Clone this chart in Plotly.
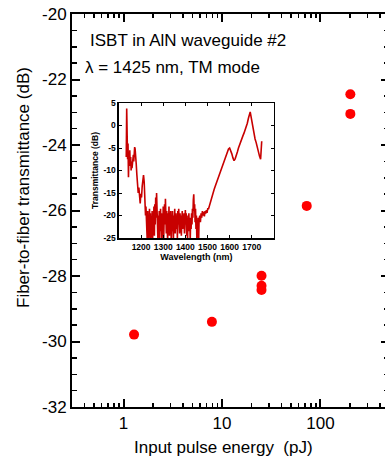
import math
import plotly.graph_objects as go

# ---- main data: fiber-to-fiber transmittance vs input pulse energy ----
energy_pj = [1.28, 7.9, 25.2, 25.2, 25.2, 72.5, 201, 201]
transmittance_db = [-29.79, -29.40, -27.99, -28.30, -28.43, -25.86, -22.45, -23.05]

main_x_ticks = [1, 10, 100]
main_x_labels = ["1", "10", "100"]
main_x_minor = [0.3, 0.4, 0.5, 0.6, 0.7, 0.8, 0.9,
                2, 3, 4, 5, 6, 7, 8, 9,
                20, 30, 40, 50, 60, 70, 80, 90,
                200, 300, 400]
main_y_ticks = [-32, -30, -28, -26, -24, -22, -20]
main_y_labels = ["-32", "-30", "-28", "-26", "-24", "-22", "-20"]

# ---- inset data: transmission spectrum (three hand-read segments) ----
inset_wl_short = [1133, 1135, 1137, 1139, 1141, 1143, 1145, 1147, 1149, 1151, 1153, 1155,
                  1157, 1159, 1161, 1163, 1165, 1167, 1169, 1171, 1173, 1175, 1178, 1181,
                  1184, 1187, 1190, 1193, 1196, 1199, 1202, 1205, 1208, 1211, 1214, 1217,
                  1220, 1222, 1224]
inset_db_short = [-7.0, 3.8, -2.0, -7.5, -4.0, -11.5, -6.0, -8.5, -5.5, -9.0, -7.0, -10.0,
                  -8.0, -9.5, -7.5, -8.8, -6.5, -8.0, -5.5, -4.8, -5.2, -6.0, -8.5, -11.0,
                  -13.5, -15.0, -13.8, -16.5, -17.3, -15.2, -16.0, -13.5, -12.0, -11.0, -12.5, -16.0,
                  -20.0, -18.0, -24.0]

inset_wl_noisy = [1226, 1228, 1230, 1232, 1234, 1236, 1238, 1240, 1242, 1244, 1246, 1248,
                  1250, 1252, 1254, 1256, 1258, 1260, 1262, 1264, 1266, 1268, 1270, 1272,
                  1274, 1276, 1278, 1280, 1282, 1284, 1286, 1288, 1290, 1292, 1294, 1296,
                  1298, 1300, 1302, 1304, 1306, 1308, 1310, 1312, 1314, 1316, 1318, 1320,
                  1322, 1324, 1326, 1328, 1330, 1332, 1334, 1336, 1338, 1340, 1342, 1344,
                  1346, 1348, 1350, 1352, 1354, 1356, 1358, 1360, 1362, 1364, 1366, 1368,
                  1370, 1372, 1374, 1376, 1378, 1380, 1382, 1384, 1386, 1388, 1390, 1392,
                  1394, 1396, 1398, 1400, 1402, 1404, 1406, 1408, 1410, 1412, 1414, 1416,
                  1418, 1420, 1422, 1424, 1426, 1428, 1430, 1432, 1434, 1436, 1438, 1440,
                  1442, 1444, 1446, 1448, 1450, 1452, 1454, 1456, 1458, 1460, 1462]
inset_db_noisy = [-21.0, -25.8, -19.0, -24.0, -20.5, -26.0, -18.5, -23.0, -19.5, -25.5, -21.0, -24.0,
                  -19.0, -26.0, -20.0, -22.5, -18.0, -24.5, -17.5, -22.0, -16.0, -20.5, -15.0, -23.0,
                  -18.5, -25.5, -20.0, -24.0, -19.0, -26.0, -21.5, -18.5, -23.5, -19.5, -25.5, -20.5,
                  -23.0, -18.0, -25.8, -21.0, -17.5, -22.0, -16.3, -20.0, -24.0, -19.0, -22.5, -25.8,
                  -19.5, -23.0, -18.0, -24.5, -20.0, -22.0, -19.0, -25.5, -20.5, -23.5, -19.0, -21.5,
                  -25.8, -20.0, -22.5, -18.5, -24.0, -21.0, -19.5, -23.0, -20.0, -25.0, -19.0, -22.0,
                  -18.5, -21.5, -24.0, -19.5, -22.0, -20.0, -24.5, -21.0, -19.0, -23.0, -20.5, -22.5,
                  -19.5, -24.0, -21.0, -18.8, -22.0, -19.5, -24.5, -21.0, -25.8, -20.0, -22.5, -19.5,
                  -23.5, -20.5, -25.5, -21.0, -23.0, -19.5, -22.0, -18.5, -20.5, -16.5, -15.3, -19.0,
                  -17.5, -21.5, -18.5, -23.0, -20.0, -25.5, -21.0, -24.0, -20.5, -25.8, -21.0]

inset_wl_long = [1465, 1468, 1471, 1474, 1477, 1480, 1483, 1486, 1489, 1492, 1495, 1498,
                 1501, 1505, 1510, 1515, 1520, 1525, 1530, 1535, 1540, 1545, 1550, 1555,
                 1560, 1565, 1570, 1575, 1580, 1585, 1590, 1595, 1600, 1605, 1610, 1615,
                 1620, 1625, 1630, 1635, 1640, 1645, 1650, 1655, 1660, 1665, 1670, 1675,
                 1680, 1685, 1690, 1693, 1696, 1700, 1705, 1710, 1715, 1720, 1725, 1730,
                 1735, 1740, 1742, 1745]
inset_db_long = [-20.0, -21.5, -19.5, -20.5, -19.0, -20.0, -19.2, -20.2, -19.0, -19.6, -18.8, -19.4,
                 -18.5, -18.5, -17.5, -16.8, -15.8, -15.2, -14.2, -13.5, -12.8, -12.0, -11.2, -10.5,
                 -10.0, -9.2, -8.5, -7.8, -7.2, -6.6, -5.8, -5.2, -5.0, -5.5, -6.3, -7.2,
                 -7.8, -7.4, -6.8, -5.9, -5.0, -4.2, -3.5, -2.9, -2.3, -1.7, -1.0, -0.3,
                 0.5, 1.6, 2.8, 3.0, 2.2, 1.0, -0.5, -1.8, -3.0, -3.8, -5.0, -5.8,
                 -6.8, -7.5, -6.0, -3.5]

inset_wl = inset_wl_short + inset_wl_noisy + inset_wl_long
inset_db = inset_db_short + inset_db_noisy + inset_db_long

inset_x_ticks = [1200, 1300, 1400, 1500, 1600, 1700]
inset_x_labels = ["1200", "1300", "1400", "1500", "1600", "1700"]
inset_y_ticks = [-25, -20, -15, -10, -5, 0, 5]
inset_y_labels = ["-25", "-20", "-15", "-10", "-5", "0", "5"]

FONT = "Liberation Sans, Arial, sans-serif"

fig = go.Figure()
fig.add_trace(go.Scatter(x=energy_pj, y=transmittance_db, mode="markers",
                         marker=dict(color="#ff0000", size=10),
                         xaxis="x", yaxis="y", showlegend=False))
fig.add_trace(go.Scatter(x=[], y=[], xaxis="x", yaxis="y2", showlegend=False))
fig.add_trace(go.Scatter(x=inset_wl, y=inset_db, mode="lines",
                         line=dict(color="#c80000", width=1.6),
                         xaxis="x2", yaxis="y3", showlegend=False))

W, H = 385, 462
L, R, T, B = 72, 0, 14, 55

fig.update_layout(
    width=W, height=H, autosize=False,
    margin=dict(l=L, r=R, t=T, b=B, pad=0),
    paper_bgcolor="white", plot_bgcolor="white",
    font=dict(family=FONT, color="black"),
    showlegend=False,
    xaxis=dict(type="log", range=[math.log10(0.3), 2.655], domain=[0, 1],
               tickmode="array", tickvals=main_x_ticks, ticktext=main_x_labels,
               ticks="inside", ticklen=8, tickwidth=2, tickcolor="black",
               showline=True, linewidth=2, linecolor="black", mirror="ticks",
               showgrid=False, zeroline=False,
               tickfont=dict(size=17, family=FONT),
               minor=dict(tickmode="array", tickvals=main_x_minor, ticks="inside",
                          ticklen=4, tickwidth=1.5, tickcolor="black", showgrid=False),
               anchor="y"),
    yaxis=dict(range=[-32, -20], domain=[0, 1],
               tickmode="array", tickvals=main_y_ticks, ticktext=main_y_labels,
               ticks="inside", ticklen=8, tickwidth=2, tickcolor="black",
               showline=True, linewidth=2, linecolor="black", mirror=False,
               showgrid=False, zeroline=False,
               tickfont=dict(size=17, family=FONT),
               minor=dict(dtick=0.5, ticks="inside", ticklen=5, tickwidth=1.5,
                          tickcolor="black", showgrid=False),
               anchor="x"),
    yaxis2=dict(range=[-32, -20], overlaying="y", side="right", anchor="x",
                tickmode="array", tickvals=main_y_ticks, showticklabels=False,
                ticks="inside", ticklen=4, tickwidth=2, tickcolor="black",
                showline=False, showgrid=False, zeroline=False,
                minor=dict(dtick=0.5, ticks="inside", ticklen=1.5, tickwidth=1.5,
                           tickcolor="black", showgrid=False)),
    xaxis2=dict(domain=[0.150, 0.645], anchor="y3", range=[1100, 1800],
                tickmode="array", tickvals=inset_x_ticks, ticktext=inset_x_labels,
                ticks="inside", ticklen=3, tickwidth=1, tickcolor="black",
                showline=True, linewidth=1.5, linecolor="black", mirror="ticks",
                showgrid=False, zeroline=False,
                tickfont=dict(size=8.5, family=FONT, weight="bold"),
                title=dict(text="Wavelength (nm)", standoff=2,
                           font=dict(size=9, family=FONT, weight="bold"))),
    yaxis3=dict(domain=[0.430, 0.7735], anchor="x2", range=[-25, 5],
                tickmode="array", tickvals=inset_y_ticks, ticktext=inset_y_labels,
                ticks="inside", ticklen=3, tickwidth=1, tickcolor="black",
                showline=True, linewidth=1.5, linecolor="black", mirror="ticks",
                showgrid=False, zeroline=False,
                tickfont=dict(size=8.5, family=FONT, weight="bold"),
                title=dict(text="Transmittance (dB)", standoff=3,
                           font=dict(size=8.5, family=FONT, weight="bold"))),
    annotations=[
        dict(text="ISBT in AlN waveguide #2", xref="paper", yref="paper",
             x=(88 - L) / (W - L - R), y=(H - B - 40) / (H - T - B),
             xanchor="left", yanchor="middle", showarrow=False,
             font=dict(size=17, family=FONT, color="black")),
        dict(text="λ = 1425 nm, TM mode", xref="paper", yref="paper",
             x=(83 - L) / (W - L - R), y=(H - B - 67) / (H - T - B),
             xanchor="left", yanchor="middle", showarrow=False,
             font=dict(size=17, family=FONT, color="black")),
        dict(text="Input pulse energy \u00a0(pJ)", xref="paper", yref="paper",
             x=(223 - L) / (W - L - R), y=(H - B - 447) / (H - T - B),
             xanchor="center", yanchor="middle", showarrow=False,
             font=dict(size=17, family=FONT, color="black")),
        dict(text="Fiber-to-fiber transmittance (dB)", xref="paper", yref="paper",
             x=(24 - L) / (W - L - R), y=(H - B - 188) / (H - T - B),
             xanchor="center", yanchor="middle", showarrow=False, textangle=-90,
             font=dict(size=17, family=FONT, color="black")),
    ],
)

fig.write_html("out.html",
               config={"displayModeBar": False, "staticPlot": True},
               post_script="document.body.style.margin='0px';"
                           "document.body.style.padding='0px';"
                           "document.body.style.overflow='hidden';")
